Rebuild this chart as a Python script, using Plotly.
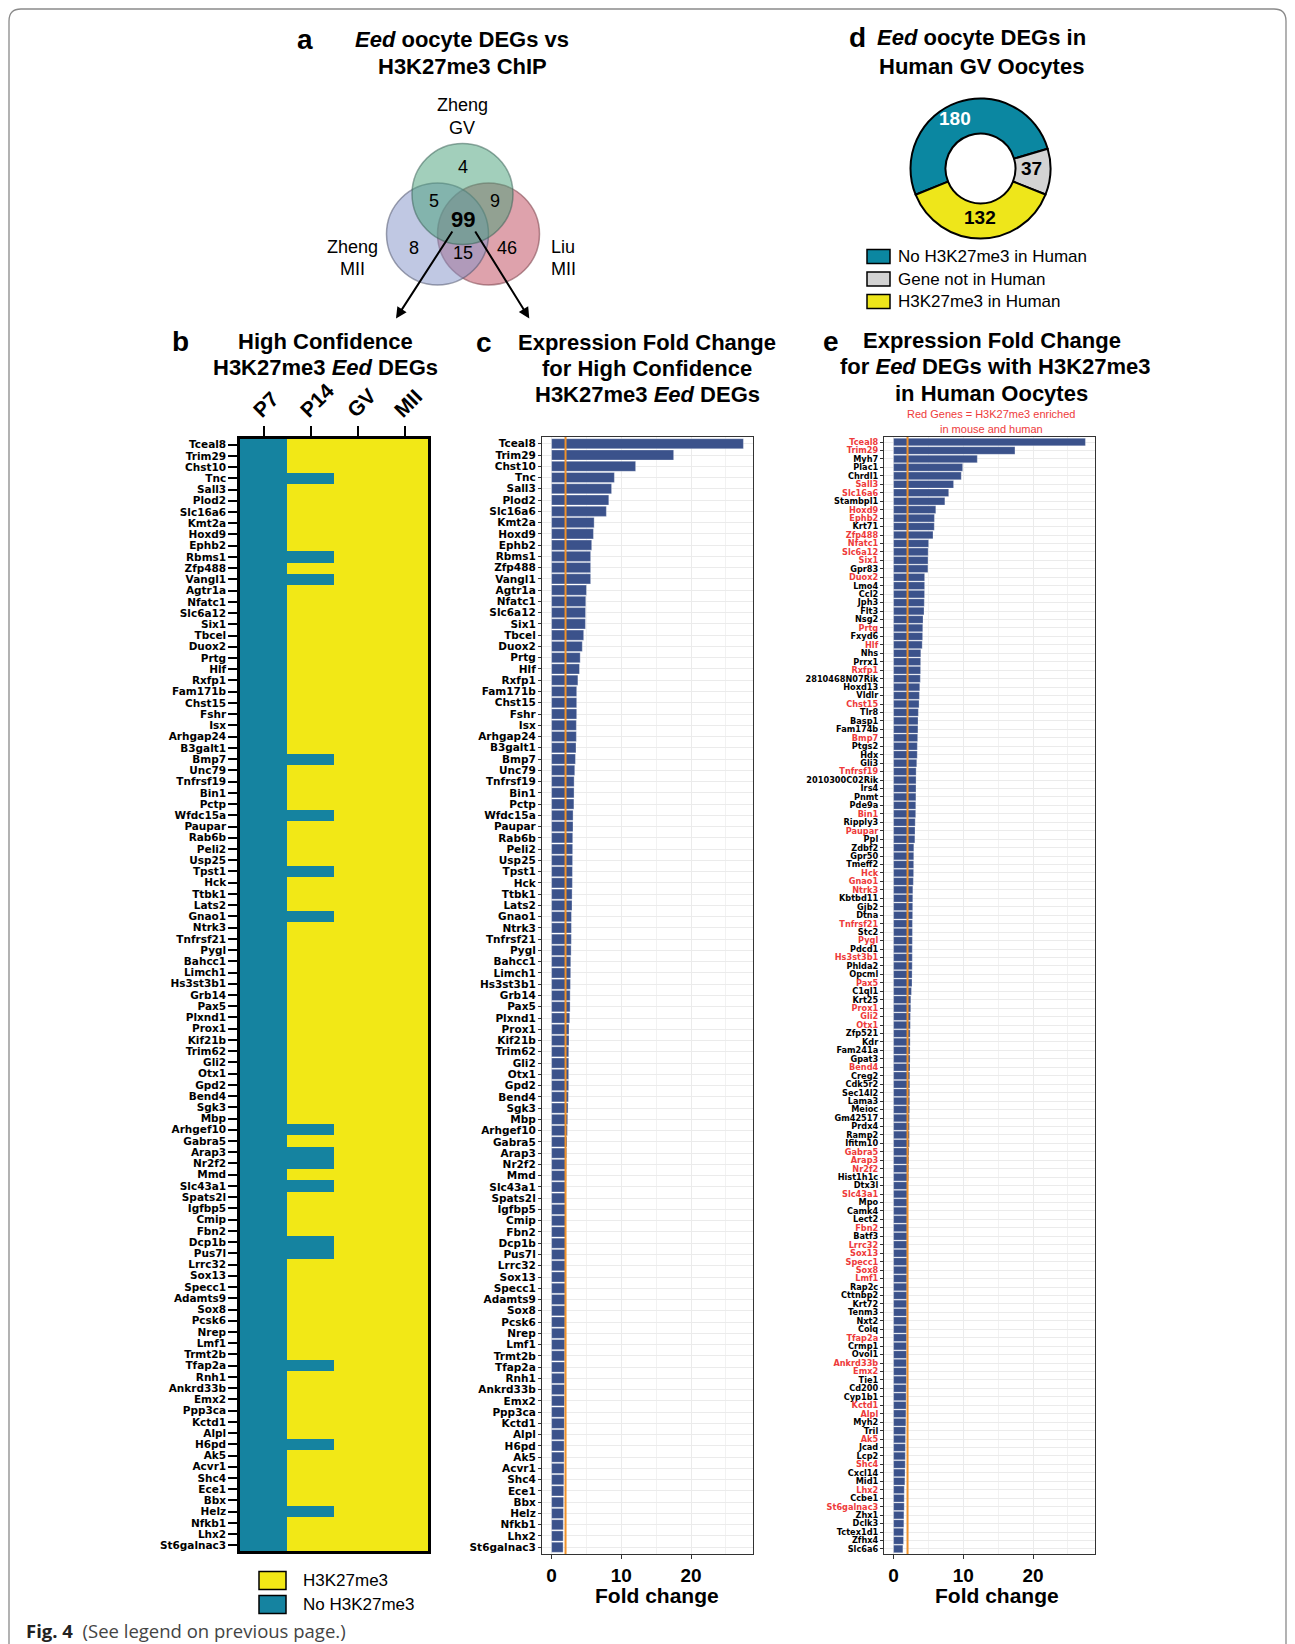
import plotly.graph_objects as go

OFF = 8  # page body margin compensation
W, H = 1295 - 2 * OFF, 1644 - OFF

def px(x):
    return (x - OFF) / W
def py(y):
    return 1 - (y - OFF) / H

FONT = "Liberation Sans, Arial, sans-serif"
LABFONT = "DejaVu Sans, sans-serif"
TEAL = "#1583A0"
YELLOW = "#F2E816"
BAR = "#3B528B"
ORANGE = "#F0922B"
RED = "#EE3B3B"
D_TEAL = "#0B87A1"
D_GRAY = "#D3D3D3"
D_YELLOW = "#EEE61A"

# ---------------- data ----------------
venn_sets = ["Zheng GV", "Zheng MII", "Liu MII"]
venn_counts = {"GV": 4, "GV&ZMII": 5, "GV&LMII": 9, "all": 99, "ZMII": 8, "ZMII&LMII": 15, "LMII": 46}

donut_labels = ["No H3K27me3 in Human", "Gene not in Human", "H3K27me3 in Human"]
donut_values = [180, 37, 132]

b_columns = ["P7", "P14", "GV", "MII"]
b_genes = ["Tceal8", "Trim29", "Chst10", "Tnc", "Sall3", "Plod2", "Slc16a6", "Kmt2a", "Hoxd9", "Ephb2",
           "Rbms1", "Zfp488", "Vangl1", "Agtr1a", "Nfatc1", "Slc6a12", "Six1", "Tbcel", "Duox2", "Prtg",
           "Hlf", "Rxfp1", "Fam171b", "Chst15", "Fshr", "Isx", "Arhgap24", "B3galt1", "Bmp7", "Unc79",
           "Tnfrsf19", "Bin1", "Pctp", "Wfdc15a", "Paupar", "Rab6b", "Peli2", "Usp25", "Tpst1", "Hck",
           "Ttbk1", "Lats2", "Gnao1", "Ntrk3", "Tnfrsf21", "Pygl", "Bahcc1", "Limch1", "Hs3st3b1", "Grb14",
           "Pax5", "Plxnd1", "Prox1", "Kif21b", "Trim62", "Gli2", "Otx1", "Gpd2", "Bend4", "Sgk3",
           "Mbp", "Arhgef10", "Gabra5", "Arap3", "Nr2f2", "Mmd", "Slc43a1", "Spats2l", "Igfbp5", "Cmip",
           "Fbn2", "Dcp1b", "Pus7l", "Lrrc32", "Sox13", "Specc1", "Adamts9", "Sox8", "Pcsk6", "Nrep",
           "Lmf1", "Trmt2b", "Tfap2a", "Rnh1", "Ankrd33b", "Emx2", "Ppp3ca", "Kctd1", "Alpl", "H6pd",
           "Ak5", "Acvr1", "Shc4", "Ece1", "Bbx", "Helz", "Nfkb1", "Lhx2", "St6galnac3"]
# genes without H3K27me3 at P14 (all genes lack it at P7, all have it at GV and MII)
p14_no_mark = ["Tnc", "Rbms1", "Vangl1", "Bmp7", "Wfdc15a", "Tpst1", "Gnao1", "Arhgef10", "Arap3",
               "Nr2f2", "Slc43a1", "Dcp1b", "Pus7l", "Tfap2a", "H6pd", "Helz"]

c_fold_change = [27.5, 17.5, 12.05, 9.0, 8.6, 8.2, 7.85, 6.1, 6.0, 5.75,
                 5.6, 5.6, 5.6, 5.0, 4.9, 4.87, 4.85, 4.6, 4.4, 4.1,
                 4.0, 3.77, 3.6, 3.6, 3.6, 3.55, 3.55, 3.5, 3.42, 3.32,
                 3.23, 3.22, 3.2, 3.08, 3.07, 3.03, 3.02, 3.01, 2.99, 2.98,
                 2.94, 2.93, 2.85, 2.84, 2.83, 2.8, 2.75, 2.74, 2.7, 2.66,
                 2.65, 2.6, 2.5, 2.5, 2.46, 2.46, 2.45, 2.45, 2.41, 2.36,
                 2.31, 2.26, 2.2, 2.15, 2.12, 2.1, 2.08, 2.06, 2.04, 2.02,
                 2.0, 1.99, 1.98, 1.97, 1.96, 1.95, 1.94, 1.93, 1.92, 1.91,
                 1.9, 1.89, 1.88, 1.87, 1.86, 1.85, 1.84, 1.83, 1.82, 1.8,
                 1.79, 1.78, 1.76, 1.74, 1.72, 1.7, 1.68, 1.66, 1.65]

e_genes = ["Tceal8", "Trim29", "Myh7", "Plac1", "Chrdl1", "Sall3", "Slc16a6", "Stambpl1", "Hoxd9", "Ephb2",
           "Krt71", "Zfp488", "Nfatc1", "Slc6a12", "Six1", "Gpr83", "Duox2", "Lmo4", "Ccl2", "Jph3",
           "Flt3", "Nsg2", "Prtg", "Fxyd6", "Hlf", "Nhs", "Prrx1", "Rxfp1", "2810468N07Rik", "Hoxd13",
           "Vldlr", "Chst15", "Tlr8", "Basp1", "Fam174b", "Bmp7", "Ptgs2", "Hdx", "Gli3", "Tnfrsf19",
           "2010300C02Rik", "Irs4", "Pnmt", "Pde9a", "Bin1", "Ripply3", "Paupar", "Ppl", "Zdbf2", "Gpr50",
           "Tmeff2", "Hck", "Gnao1", "Ntrk3", "Kbtbd11", "Gjb2", "Dtna", "Tnfrsf21", "Stc2", "Pygl",
           "Pdcd1", "Hs3st3b1", "Phlda2", "Opcml", "Pax5", "C1ql1", "Krt25", "Prox1", "Gli2", "Otx1",
           "Zfp521", "Kdr", "Fam241a", "Gpat3", "Bend4", "Creg2", "Cdk5r2", "Sec14l2", "Lama3", "Meioc",
           "Gm42517", "Prdx4", "Ramp2", "Ifitm10", "Gabra5", "Arap3", "Nr2f2", "Hist1h1c", "Dtx3l", "Slc43a1",
           "Mpo", "Camk4", "Lect2", "Fbn2", "Batf3", "Lrrc32", "Sox13", "Specc1", "Sox8", "Lmf1",
           "Rap2c", "Cttnbp2", "Krt72", "Tenm3", "Nxt2", "Colq", "Tfap2a", "Crmp1", "Ovol1", "Ankrd33b",
           "Emx2", "Tie1", "Cd200", "Cyp1b1", "Kctd1", "Alpl", "Myh2", "Tril", "Ak5", "Jcad",
           "Lcp2", "Shc4", "Cxcl14", "Mid1", "Lhx2", "Ccbe1", "St6galnac3", "Zhx1", "Dclk3", "Tctex1d1",
           "Zfhx4", "Slc6a6"]
e_fold_change = [27.5, 17.4, 12.0, 9.9, 9.7, 8.6, 7.9, 7.35, 6.05, 5.85,
                 5.83, 5.65, 5.02, 4.95, 4.93, 4.92, 4.45, 4.45, 4.44, 4.4,
                 4.36, 4.22, 4.18, 4.16, 4.1, 3.9, 3.88, 3.87, 3.83, 3.75,
                 3.7, 3.65, 3.55, 3.5, 3.49, 3.45, 3.4, 3.39, 3.32, 3.23,
                 3.22, 3.21, 3.2, 3.18, 3.17, 3.1, 3.07, 3.05, 2.9, 2.89,
                 2.88, 2.87, 2.83, 2.76, 2.75, 2.74, 2.73, 2.7, 2.7, 2.69,
                 2.68, 2.68, 2.67, 2.65, 2.64, 2.56, 2.47, 2.46, 2.41, 2.4,
                 2.37, 2.37, 2.36, 2.36, 2.35, 2.32, 2.32, 2.31, 2.31, 2.3,
                 2.27, 2.27, 2.26, 2.26, 2.2, 2.18, 2.17, 2.15, 1.97, 1.96,
                 1.96, 1.95, 1.95, 1.94, 1.94, 1.93, 1.93, 1.92, 1.92, 1.91,
                 1.91, 1.9, 1.9, 1.89, 1.89, 1.88, 1.88, 1.87, 1.87, 1.86,
                 1.86, 1.85, 1.81, 1.8, 1.8, 1.77, 1.76, 1.72, 1.71, 1.69,
                 1.68, 1.67, 1.64, 1.62, 1.53, 1.52, 1.52, 1.48, 1.47, 1.43,
                 1.42, 1.33]
e_red_genes = ["Tceal8", "Trim29", "Sall3", "Slc16a6", "Hoxd9", "Ephb2", "Zfp488", "Nfatc1", "Slc6a12",
               "Six1", "Duox2", "Prtg", "Hlf", "Rxfp1", "Chst15", "Bmp7", "Tnfrsf19", "Bin1", "Paupar",
               "Hck", "Gnao1", "Ntrk3", "Tnfrsf21", "Pygl", "Hs3st3b1", "Pax5", "Prox1", "Gli2", "Otx1",
               "Bend4", "Gabra5", "Arap3", "Nr2f2", "Slc43a1", "Fbn2", "Lrrc32", "Sox13", "Specc1", "Sox8",
               "Lmf1", "Tfap2a", "Ankrd33b", "Emx2", "Kctd1", "Alpl", "Ak5", "Shc4", "Lhx2", "St6galnac3"]

fc_threshold = 2
fc_ticks = [0, 10, 20]

# ---------------- figure ----------------
z = []
for g in b_genes:
    z.append([0, 0 if g in p14_no_mark else 1, 1, 1])

fig = go.Figure()
fig.add_trace(go.Heatmap(z=z, x=b_columns, y=b_genes,
                         colorscale=[[0, TEAL], [0.5, TEAL], [0.5, YELLOW], [1, YELLOW]],
                         zmin=0, zmax=1, showscale=False, hoverinfo="skip",
                         xaxis="x", yaxis="y"))
fig.add_trace(go.Bar(x=c_fold_change, y=b_genes, orientation="h", width=0.9,
                     marker=dict(color=BAR, line=dict(color="rgba(255,255,255,0.55)", width=0.6)),
                     xaxis="x2", yaxis="y2", hoverinfo="skip"))
fig.add_trace(go.Bar(x=e_fold_change, y=e_genes, orientation="h", width=0.9,
                     marker=dict(color=BAR, line=dict(color="rgba(255,255,255,0.55)", width=0.5)),
                     xaxis="x3", yaxis="y3", hoverinfo="skip"))
fig.add_trace(go.Pie(values=donut_values, labels=donut_labels, hole=0.5, sort=False,
                     direction="clockwise", rotation=248, textinfo="none", hoverinfo="skip",
                     marker=dict(colors=[D_TEAL, D_GRAY, D_YELLOW], line=dict(color="black", width=2)),
                     domain=dict(x=[px(910.5), px(1050.5)], y=[py(238.5), py(98.5)]),
                     showlegend=False))

bold = dict(family=FONT, color="black", weight=700)
labbold = dict(family=LABFONT, color="black", weight=700)

e_ticktext = [f'<span style="color:{RED}">{g}</span>' if g in e_red_genes else g for g in e_genes]

bar_x_common = dict(range=[-1.375, 28.875], tickmode="array", tickvals=fc_ticks,
                    ticks="outside", ticklen=4, tickcolor="#333", tickwidth=1,
                    tickfont=dict(size=19, **bold), showgrid=True, gridcolor="#EBEBEB", gridwidth=1.1,
                    minor=dict(dtick=5, tick0=0, showgrid=True, gridcolor="#F2F2F2", gridwidth=0.6),
                    showline=True, linecolor="#333", linewidth=1.3, mirror=True, zeroline=False,
                    fixedrange=True)

fig.update_layout(
    width=W, height=H, margin=dict(l=0, r=0, t=0, b=0),
    paper_bgcolor="white", plot_bgcolor="rgba(0,0,0,0)", showlegend=False,
    font=dict(family=FONT, color="black"),
    xaxis=dict(domain=[px(240), px(428)], anchor="y", side="top", tickangle=-45,
               ticks="outside", ticklen=10, tickwidth=2, tickcolor="black",
               ticklabelshift=-9, ticklabelstandoff=-4,
               showline=True, linewidth=2.5, linecolor="black", mirror=True,
               tickfont=dict(size=21, **bold), showgrid=False, zeroline=False),
    yaxis=dict(domain=[py(1551), py(439)], anchor="x", autorange="reversed",
               tickmode="array", tickvals=b_genes, ticktext=b_genes,
               ticks="outside", ticklen=9, tickwidth=2, tickcolor="black",
               showline=True, linewidth=2.5, linecolor="black", mirror=True,
               tickfont=dict(size=10.5, **labbold), showgrid=False, zeroline=False),
    xaxis2=dict(domain=[px(542), px(753)], anchor="y2", **bar_x_common),
    yaxis2=dict(domain=[py(1554), py(437)], anchor="x2", type="category",
                categoryorder="array", categoryarray=b_genes, range=[len(b_genes) - 0.4, -0.6],
                tickmode="array", tickvals=b_genes, ticktext=b_genes,
                ticks="outside", ticklen=3, tickcolor="#333",
                tickfont=dict(size=10.5, **labbold), showgrid=True, gridcolor="#EBEBEB",
                showline=True, linecolor="#333", linewidth=1.3, mirror=True, fixedrange=True),
    xaxis3=dict(domain=[px(884), px(1095)], anchor="y3", **bar_x_common),
    yaxis3=dict(domain=[py(1554), py(437)], anchor="x3", type="category",
                categoryorder="array", categoryarray=e_genes, range=[len(e_genes) - 0.4, -0.6],
                tickmode="array", tickvals=e_genes, ticktext=e_ticktext,
                ticks="outside", ticklen=3, tickcolor="#333",
                tickfont=dict(size=8.2, **labbold), showgrid=True, gridcolor="#EBEBEB",
                showline=True, linecolor="#333", linewidth=1.3, mirror=True, fixedrange=True),
)

shapes = []
# threshold lines
shapes.append(dict(type="line", xref="x2", yref="y2 domain", x0=fc_threshold, x1=fc_threshold,
                   y0=0, y1=1, line=dict(color=ORANGE, width=2)))
shapes.append(dict(type="line", xref="x3", yref="y3 domain", x0=fc_threshold, x1=fc_threshold,
                   y0=0, y1=1, line=dict(color=ORANGE, width=2)))

# Venn circles
def circle(cx, cy, r, fill, line):
    return dict(type="circle", xref="paper", yref="paper",
                x0=px(cx - r), x1=px(cx + r), y0=py(cy + r), y1=py(cy - r),
                fillcolor=fill, line=dict(color=line, width=1.5), layer="above")
shapes.append(circle(488.5, 234, 51, "rgba(190,70,90,0.5)", "rgba(120,60,70,0.55)"))
shapes.append(circle(437.5, 234, 51, "rgba(130,145,200,0.5)", "rgba(80,85,110,0.55)"))
shapes.append(circle(462.5, 194, 50.5, "rgba(70,160,120,0.5)", "rgba(60,100,90,0.55)"))

# donut legend boxes
for cy, col in zip([256.5, 279, 301.5], [D_TEAL, D_GRAY, D_YELLOW]):
    shapes.append(dict(type="rect", xref="paper", yref="paper", x0=px(867), x1=px(890),
                       y0=py(cy + 7), y1=py(cy - 7), fillcolor=col, line=dict(color="black", width=1.5)))
# heatmap legend boxes
for cy, col in zip([1580.5, 1604.5], [YELLOW, TEAL]):
    shapes.append(dict(type="rect", xref="paper", yref="paper", x0=px(259), x1=px(286),
                       y0=py(cy + 9), y1=py(cy - 9), fillcolor=col, line=dict(color="black", width=1.5)))

# figure border
RB = 1286
border = (f"M {px(9)},{py(1700)} L {px(9)},{py(21)} Q {px(9)},{py(9)} {px(21)},{py(9)} "
          f"L {px(RB - 12)},{py(9)} Q {px(RB)},{py(9)} {px(RB)},{py(21)} L {px(RB)},{py(1700)}")
shapes.append(dict(type="path", xref="paper", yref="paper", path=border,
                   line=dict(color="#8A8A8A", width=1.3)))
fig.update_layout(shapes=shapes)

anns = []
def ann(text, x, y, size, weight=400, color="black", xanchor="center", family=FONT):
    anns.append(dict(text=text, x=px(x), y=py(y), xref="paper", yref="paper", showarrow=False,
                     xanchor=xanchor, yanchor="middle",
                     font=dict(size=size, color=color, family=family, weight=weight)))

# panel letters and titles
ann("a", 305, 40, 28, 700)
ann("<i>Eed</i> oocyte DEGs vs", 462, 40, 22, 700)
ann("H3K27me3 ChIP", 462, 66.5, 22, 700)
ann("d", 857, 38, 28, 700)
ann("<i>Eed</i> oocyte DEGs in", 981, 38, 22, 700)
ann("Human GV Oocytes", 981, 66.5, 22, 700)
ann("b", 180, 341, 28, 700)
ann("High Confidence", 325, 341, 22, 700)
ann("H3K27me3 <i>Eed</i> DEGs", 325, 367.5, 22, 700)
ann("c", 484.5, 342, 28, 700)
ann("Expression Fold Change", 647, 342, 22, 700)
ann("for High Confidence", 647, 368, 22, 700)
ann("H3K27me3 <i>Eed</i> DEGs", 647, 394.5, 22, 700)
ann("e", 830.5, 341, 28, 700)
ann("Expression Fold Change", 992, 340, 22, 700)
ann("for <i>Eed</i> DEGs with H3K27me3", 995, 366.5, 22, 700)
ann("in Human Oocytes", 992, 393, 22, 700)
ann("Red Genes = H3K27me3 enriched", 991, 414, 11, 400, RED)
ann("in mouse and human", 991, 429, 11, 400, RED)
ann("Fold change", 657, 1595, 21, 700)
ann("Fold change", 997, 1595, 21, 700)

# Venn labels and counts
ann("Zheng", 462, 105, 18)
ann("GV", 462, 128, 18)
ann("Zheng", 353, 247, 18)
ann("MII", 353, 268.5, 18)
ann("Liu", 563, 247, 18)
ann("MII", 563, 268.5, 18)
venn_pos = {"GV": (462.5, 166.5), "GV&ZMII": (433.5, 201.5), "GV&LMII": (495, 201.5),
            "all": (462.5, 220), "ZMII": (413.5, 248.5), "ZMII&LMII": (463.5, 253.5), "LMII": (506.5, 248.5)}
for k, v in venn_counts.items():
    x, y = venn_pos[k]
    if k == "all":
        ann(f"{v}", x, y, 22, 700)
    else:
        ann(f"{v}", x, y, 18)

# arrows
for hx, tx in [(396, 453.3), (529.3, 474.3)]:
    anns.append(dict(x=px(hx), y=py(318.5), xref="paper", yref="paper", text="",
                     showarrow=True, ax=tx - hx, ay=230 - 318.5, axref="pixel", ayref="pixel",
                     arrowhead=2, arrowsize=1.1, arrowwidth=2, arrowcolor="black"))

# donut numbers
ann(f"{donut_values[0]}", 955, 118.5, 19, 700, "white")
ann(f"{donut_values[1]}", 1031.5, 168.5, 19, 700)
ann(f"{donut_values[2]}", 980, 217, 19, 700)
# donut legend
for cy, lab in zip([256.5, 279, 301.5], donut_labels):
    ann(lab, 896, cy, 17, 400, xanchor="left")
# heatmap legend
ann("H3K27me3", 301, 1580.5, 17, 400, xanchor="left")
ann("No H3K27me3", 301, 1604.5, 17, 400, xanchor="left")
# caption
anns.append(dict(text='<b>Fig. 4</b>  <span style="color:#444">(See legend on previous page.)</span>',
                 x=px(24), y=py(1630), xref="paper", yref="paper", showarrow=False,
                 xanchor="left", yanchor="middle",
                 font=dict(size=18.5, color="#222", family="Open Sans, sans-serif")))

fig.update_layout(annotations=anns)
fig.write_html("out.html")
